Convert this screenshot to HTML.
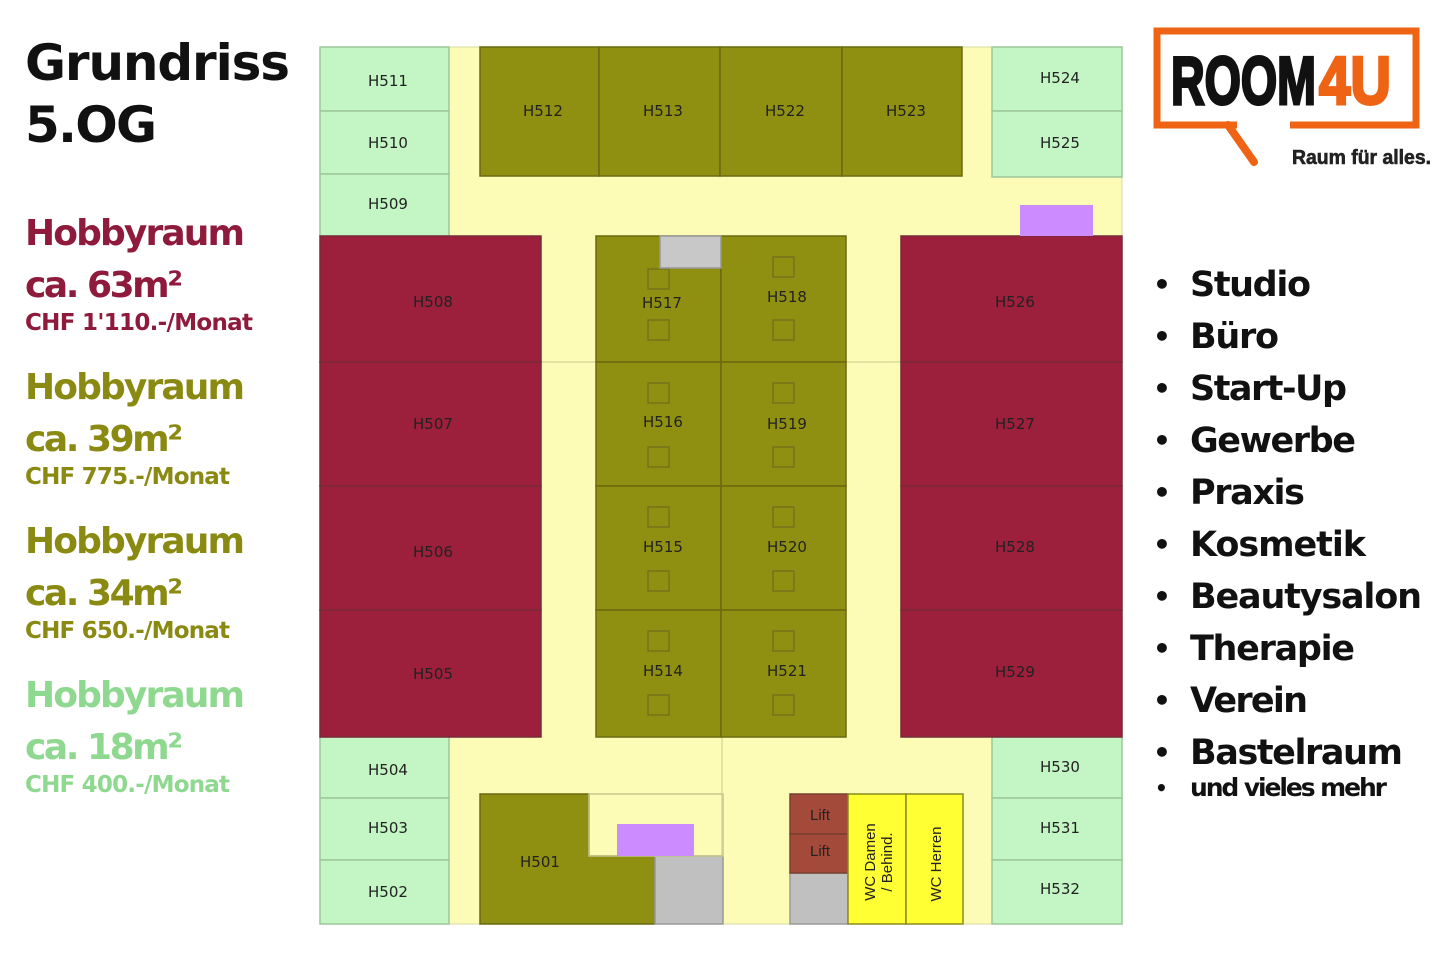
<!DOCTYPE html>
<html><head><meta charset="utf-8"><style>
html,body{margin:0;padding:0;background:#fff;}
svg{display:block}
.rl{font-family:"DejaVu Sans",sans-serif;font-size:15px;fill:#222;text-anchor:middle;}
.b{font-family:"DejaVu Sans",sans-serif;font-weight:bold;}
</style></head><body>
<svg width="1440" height="972" viewBox="0 0 1440 972" xmlns="http://www.w3.org/2000/svg">
<rect width="1440" height="972" fill="#fff"/>
<rect x="320" y="47" width="802" height="877" fill="#fcfcb6" stroke="#d8d8a0"/>
<g stroke="#dcdc9c" stroke-width="1.5">
<line x1="541" y1="362" x2="596" y2="362"/><line x1="846" y1="362" x2="901" y2="362"/>
<line x1="722" y1="737" x2="722" y2="924"/>
</g>
<g fill="#c4f5c4" stroke="#9cc79c" stroke-width="1.5">
<rect x="320" y="47" width="129" height="64"/><rect x="320" y="111" width="129" height="63"/><rect x="320" y="174" width="129" height="62"/>
<rect x="320" y="737" width="129" height="61"/><rect x="320" y="798" width="129" height="62"/><rect x="320" y="860" width="129" height="64"/>
<rect x="992" y="47" width="130" height="64"/><rect x="992" y="111" width="130" height="66"/>
<rect x="992" y="737" width="130" height="61"/><rect x="992" y="798" width="130" height="62"/><rect x="992" y="860" width="130" height="64"/>
</g>
<g fill="#9c1f3c" stroke="#7a2a38" stroke-width="1.5">
<rect x="320" y="236" width="221" height="126"/><rect x="320" y="362" width="221" height="124"/><rect x="320" y="486" width="221" height="124"/><rect x="320" y="610" width="221" height="127"/>
<rect x="901" y="236" width="221" height="126"/><rect x="901" y="362" width="221" height="124"/><rect x="901" y="486" width="221" height="124"/><rect x="901" y="610" width="221" height="127"/>
</g>
<g fill="#8f8f12" stroke="#6a6a10" stroke-width="1.5">
<rect x="480" y="47" width="119" height="129"/><rect x="599" y="47" width="121" height="129"/><rect x="720" y="47" width="122" height="129"/><rect x="842" y="47" width="120" height="129"/>
<rect x="596" y="236" width="125" height="126"/><rect x="721" y="236" width="125" height="126"/>
<rect x="596" y="362" width="125" height="124"/><rect x="721" y="362" width="125" height="124"/>
<rect x="596" y="486" width="125" height="124"/><rect x="721" y="486" width="125" height="124"/>
<rect x="596" y="610" width="125" height="127"/><rect x="721" y="610" width="125" height="127"/>
<path d="M480 794 H589 V856 H655 V924 H480 Z"/>
</g>
<g fill="none" stroke="#74741a" stroke-width="1.5">
<rect x="648" y="269" width="21" height="20"/><rect x="648" y="320" width="21" height="20"/>
<rect x="773" y="257" width="21" height="20"/><rect x="773" y="320" width="21" height="20"/>
<rect x="648" y="383" width="21" height="20"/><rect x="648" y="447" width="21" height="20"/>
<rect x="773" y="383" width="21" height="20"/><rect x="773" y="447" width="21" height="20"/>
<rect x="648" y="507" width="21" height="20"/><rect x="648" y="571" width="21" height="20"/>
<rect x="773" y="507" width="21" height="20"/><rect x="773" y="571" width="21" height="20"/>
<rect x="648" y="631" width="21" height="20"/><rect x="648" y="695" width="21" height="20"/>
<rect x="773" y="631" width="21" height="20"/><rect x="773" y="695" width="21" height="20"/>
</g>
<g stroke="#999" stroke-width="1.5">
<rect x="660" y="236" width="61" height="32" fill="#c8c8c8"/>
<rect x="655" y="856" width="68" height="68" fill="#c0c0c0"/>
<rect x="790" y="873" width="58" height="51" fill="#c0c0c0"/>
</g>
<rect x="589" y="794" width="134" height="62" fill="none" stroke="#c8c890" stroke-width="1.5"/>
<rect x="617" y="824" width="77" height="32" fill="#cc8cff"/>
<rect x="1020" y="205" width="73" height="31" fill="#cc8cff"/>
<g stroke="#7a4030" stroke-width="1.5" fill="#a34a3a">
<rect x="790" y="794" width="58" height="40"/><rect x="790" y="834" width="58" height="39"/>
</g>
<g fill="#ffff33" stroke="#8a8a20" stroke-width="1.5">
<rect x="848" y="794" width="58" height="130"/><rect x="906" y="794" width="57" height="130"/>
</g>
<g class="rl">
<text x="388" y="86">H511</text><text x="388" y="148">H510</text><text x="388" y="209">H509</text>
<text x="388" y="775">H504</text><text x="388" y="833">H503</text><text x="388" y="897">H502</text>
<text x="1060" y="83">H524</text><text x="1060" y="148">H525</text>
<text x="1060" y="772">H530</text><text x="1060" y="833">H531</text><text x="1060" y="894">H532</text>
<text x="433" y="307">H508</text><text x="433" y="429">H507</text><text x="433" y="557">H506</text><text x="433" y="679">H505</text>
<text x="1015" y="307">H526</text><text x="1015" y="429">H527</text><text x="1015" y="552">H528</text><text x="1015" y="677">H529</text>
<text x="543" y="116">H512</text><text x="663" y="116">H513</text><text x="785" y="116">H522</text><text x="906" y="116">H523</text>
<text x="662" y="308">H517</text><text x="787" y="302">H518</text>
<text x="663" y="427">H516</text><text x="787" y="429">H519</text>
<text x="663" y="552">H515</text><text x="787" y="552">H520</text>
<text x="663" y="676">H514</text><text x="787" y="676">H521</text>
<text x="540" y="867">H501</text>
<text x="820" y="820" style="font-family:'Liberation Sans',sans-serif">Lift</text>
<text x="820" y="856" style="font-family:'Liberation Sans',sans-serif">Lift</text>
</g>
<g style="font-family:'Liberation Sans',sans-serif;font-size:15px;fill:#222" text-anchor="middle">
<text transform="translate(875,862) rotate(-90)">WC Damen</text>
<text transform="translate(892,862) rotate(-90)">/ Behind.</text>
<text transform="translate(941,864) rotate(-90)">WC Herren</text>
</g>
<g class="b">
<text x="25" y="80" font-size="50" fill="#111" textLength="265">Grundriss</text>
<text x="25" y="142" font-size="50" fill="#111" textLength="132">5.OG</text>
<g fill="#8e1a3c"><text x="25" y="245" font-size="36" textLength="220">Hobbyraum</text><text x="25" y="297" font-size="36" textLength="158">ca. 63m²</text><text x="25" y="330" font-size="23" textLength="228">CHF 1'110.-/Monat</text></g>
<g fill="#8a8a12"><text x="25" y="399" font-size="36" textLength="220">Hobbyraum</text><text x="25" y="451" font-size="36" textLength="158">ca. 39m²</text><text x="25" y="484" font-size="23" textLength="205">CHF 775.-/Monat</text></g>
<g fill="#8a8a12"><text x="25" y="553" font-size="36" textLength="220">Hobbyraum</text><text x="25" y="605" font-size="36" textLength="158">ca. 34m²</text><text x="25" y="638" font-size="23" textLength="205">CHF 650.-/Monat</text></g>
<g fill="#8fd88f"><text x="25" y="707" font-size="36" textLength="220">Hobbyraum</text><text x="25" y="759" font-size="36" textLength="158">ca. 18m²</text><text x="25" y="792" font-size="23" textLength="205">CHF 400.-/Monat</text></g>
</g>
<path d="M1237 125 H1157 V31 H1416 V125 H1290" fill="none" stroke="#ef6414" stroke-width="7"/>
<line x1="1228" y1="125" x2="1254" y2="162" stroke="#ef6414" stroke-width="8" stroke-linecap="round"/>
<text x="1171" y="104" font-family="Liberation Sans,sans-serif" font-weight="bold" font-size="68" fill="#111" stroke="#111" stroke-width="3" textLength="145" lengthAdjust="spacingAndGlyphs">ROOM</text>
<text x="1319" y="104" font-family="Liberation Sans,sans-serif" font-weight="bold" font-size="68" fill="#ef6414" stroke="#ef6414" stroke-width="3" textLength="72" lengthAdjust="spacingAndGlyphs">4U</text>
<text x="1292" y="164" font-family="Liberation Sans,sans-serif" font-weight="bold" font-size="20" fill="#222" stroke="#222" stroke-width="0.6" textLength="139" lengthAdjust="spacingAndGlyphs">Raum für alles.</text>
<g class="b" fill="#111" font-size="35">
<g font-size="28"><text x="1153" y="294">•</text><text x="1153" y="346">•</text><text x="1153" y="398">•</text><text x="1153" y="450">•</text><text x="1153" y="502">•</text><text x="1153" y="554">•</text><text x="1153" y="606">•</text><text x="1153" y="658">•</text><text x="1153" y="710">•</text><text x="1153" y="762">•</text><text x="1155" y="795" font-size="20">•</text></g>
<text x="1190" y="296" textLength="121">Studio</text>
<text x="1190" y="348" textLength="89">Büro</text>
<text x="1190" y="400" textLength="157">Start-Up</text>
<text x="1190" y="452" textLength="166">Gewerbe</text>
<text x="1190" y="504" textLength="115">Praxis</text>
<text x="1190" y="556" textLength="176">Kosmetik</text>
<text x="1190" y="608" textLength="232">Beautysalon</text>
<text x="1190" y="660" textLength="165">Therapie</text>
<text x="1190" y="712" textLength="118">Verein</text>
<text x="1190" y="764" textLength="213">Bastelraum</text>
<text x="1190" y="796" font-size="25" textLength="197">und vieles mehr</text>
</g>
</svg>
</body></html>
